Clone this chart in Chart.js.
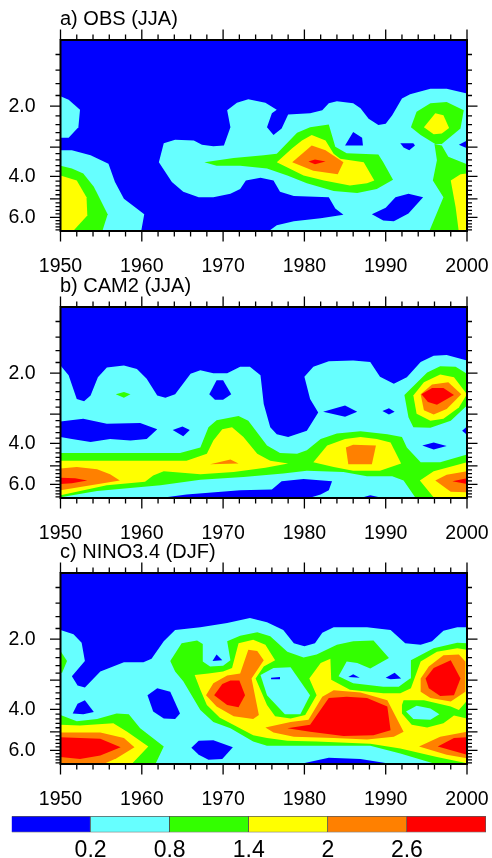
<!DOCTYPE html>
<html>
<head>
<meta charset="utf-8">
<script src="https://cdn.jsdelivr.net/npm/chart.js@4"></script>
<style>
  body { margin: 0; background: #fff; }
  canvas { position: absolute; left: 0; }
</style>
</head>
<body>
<canvas id="panelA" width="492" height="270" style="top:10px"></canvas>
<canvas id="panelB" width="492" height="270" style="top:277px"></canvas>
<canvas id="panelC" width="492" height="270" style="top:543px"></canvas>
<canvas id="colorBar" width="492" height="53" style="top:805px"></canvas>
<script>
// axis ticks
const xLabels = [1950, 1960, 1970, 1980, 1990, 2000];
const xMinor = [1952, 1954, 1956, 1958, 1962, 1964, 1966, 1968, 1972, 1974, 1976, 1978, 1982, 1984, 1986, 1988, 1992, 1994, 1996, 1998];
const yLabels = [2, 4, 6];
const yMajor = [2, 3, 4, 5, 6];
const yMinor = [1.2, 1.4, 1.6, 1.8, 2.2, 2.4, 2.6, 2.8, 3.2, 3.4, 3.6, 3.8, 4.2, 4.4, 4.6, 4.8, 5.2, 5.4, 5.6, 5.8, 6.2, 6.4, 6.6, 6.8];
const periodMin = 1.04;
const periodMax = 6.87;

// color bar
const barLevels = ['0.2', '0.8', '1.4', '2', '2.6'];
const BLUE = '#0000ff', CYAN = '#66ffff', GREEN = '#33ff00', YELLOW = '#ffff00', ORANGE = '#ff8000', RED = '#ff0000';
const barColors = [BLUE, CYAN, GREEN, YELLOW, ORANGE, RED];

// contour outlines, as [year, log2(period)]
const wholeDomain = [[1950, 0], [2000, 0], [2000, 2.8], [1950, 2.8]];

// a) OBS
const obsCyan = [
  [[1950,0.86],[1951,0.91],[1952.4,1.05],[1952.2,1.30],[1951,1.45],[1950,1.45]],
  [[1950,1.63],[1951.4,1.63],[1953.7,1.70],[1955.9,1.82],[1956.7,2.08],[1957.8,2.32],[1960.3,2.54],[1959.9,2.8],[1950,2.8]],
  [[1975.4,2.8],[2000,2.8],[2000,0.82],[1997.5,0.75],[1995.5,0.75],[1993,0.83],[1992,0.89],[1990.8,1.13],[1990,1.25],[1989.1,1.27],[1987.9,1.18],[1986.9,1.03],[1986,0.96],[1984,0.93],[1983,0.96],[1982.2,1.06],[1980.7,1.10],[1978,1.12],[1977.2,1.32],[1976.2,1.41],[1975.4,1.30],[1976,1.10],[1976.6,1.05],[1975.2,0.95],[1973.1,0.90],[1971.7,0.95],[1970.5,1.06],[1970.9,1.30],[1970.1,1.56],[1968.8,1.57],[1967.4,1.55],[1966.4,1.49],[1964.1,1.48],[1962.7,1.53],[1962.1,1.80],[1963.7,2.08],[1965.1,2.22],[1967,2.30],[1968.8,2.30],[1970.9,2.25],[1972.1,2.18],[1972.8,2.06],[1974.6,2.02],[1976.2,2.06],[1977,2.22],[1978.7,2.28],[1983,2.30],[1983.8,2.46],[1984.8,2.55],[1982,2.60],[1978.7,2.64],[1976.6,2.70]]
];
const obsBlue = [
  [[1985,1.56],[1986,1.37],[1987.1,1.45],[1987.2,1.56]],
  [[1991.8,1.53],[1993.4,1.53],[1993.6,1.56],[1992.9,1.63],[1992.2,1.59]],
  [[2000,1.49],[1999,1.55],[2000,1.60]],
  [[1988.3,2.54],[1990,2.45],[1991.2,2.30],[1992.8,2.25],[1994.6,2.30],[1992.8,2.53],[1991,2.64],[1989.7,2.63]]
];
const obsGreen = [
  [[1950,1.85],[1951.4,1.89],[1952.8,1.96],[1954.1,2.15],[1955.8,2.54],[1955.1,2.8],[1950,2.8]],
  [[1967.7,1.80],[1971.3,1.74],[1975,1.70],[1976.6,1.68],[1978,1.51],[1979.1,1.38],[1980.7,1.30],[1983,1.26],[1983.8,1.58],[1985.2,1.67],[1989.1,1.69],[1989.7,1.80],[1990.9,2.05],[1988.9,2.18],[1986.5,2.24],[1983.6,2.21],[1980.3,2.10],[1977.9,1.99],[1975.4,1.89],[1972.1,1.85],[1969.2,1.85]],
  [[1993.1,1.30],[1993.8,1.08],[1995.5,0.96],[1997.5,0.94],[1999.6,1.06],[1999.2,1.32],[1996.9,1.54],[1996.1,1.54],[1994.3,1.41]],
  [[1996,1.54],[1996.9,1.56],[1997.7,1.72],[2000,1.83],[2000,2.8],[1995.3,2.8],[1997.1,2.30],[1995.8,2.06],[1996.3,1.77]]
];
const obsYellow = [
  [[1950,1.99],[1952,2.06],[1953.2,2.30],[1953.3,2.56],[1951.4,2.8],[1950,2.8]],
  [[1976.6,1.80],[1978.5,1.60],[1979.7,1.49],[1980.9,1.41],[1982.6,1.49],[1983.6,1.68],[1984.4,1.75],[1987.3,1.80],[1988.6,2.06],[1987.7,2.10],[1985.6,2.13],[1982.4,2.06],[1979.9,1.99]],
  [[1994.7,1.30],[1996.1,1.10],[1997.1,1.13],[1997.8,1.31],[1996.9,1.39],[1995.9,1.40]],
  [[1998,2.06],[1999.2,1.97],[2000,1.96],[2000,2.8],[1999,2.8],[1998.6,2.44]]
];
const obsOrange = [
  [[1978.5,1.80],[1980.9,1.56],[1982.6,1.63],[1984.8,1.80],[1984.1,1.97],[1981.1,1.92]]
];
const obsRed = [
  [[1980.5,1.79],[1981.3,1.76],[1982.6,1.79],[1981.3,1.83]]
];

// b) CAM2
const camCyan = [
  [[1950,0.89],[1951,1.03],[1952,1.37],[1952.9,1.40],[1953.7,1.32],[1954.6,1.06],[1955.7,0.92],[1957.8,0.89],[1959.4,0.94],[1960.6,1.08],[1961.9,1.32],[1962.9,1.35],[1964.1,1.30],[1966,1.01],[1967.2,0.96],[1968.8,1.00],[1970.5,1.00],[1972.1,0.91],[1973.3,0.91],[1974.6,1.03],[1975,1.44],[1975.8,1.77],[1976.6,1.87],[1978,1.91],[1980.3,1.82],[1981.7,1.56],[1980.7,1.37],[1980,1.05],[1981.1,0.91],[1983,0.83],[1986,0.82],[1988.1,0.84],[1989.3,1.05],[1991,1.15],[1992.6,1.06],[1994.3,0.84],[1995.9,0.75],[1997.5,0.74],[2000,0.82],[2000,2.8],[1950,2.8]]
];
const camBlue = [
  [[1950,1.69],[1952.8,1.65],[1955.7,1.72],[1959.8,1.71],[1961.9,1.80],[1960.6,1.94],[1958.6,1.96],[1956.1,1.94],[1953.7,1.98],[1951.4,1.94],[1950,1.91]],
  [[1963.8,1.81],[1965,1.76],[1965.9,1.81],[1965.1,1.90]],
  [[1968.3,1.30],[1969.2,1.10],[1970,1.10],[1971,1.30],[1970,1.38],[1969,1.38]],
  [[1982.3,1.55],[1985,1.46],[1986.5,1.55],[1985,1.62]],
  [[1989.6,1.54],[1990.4,1.50],[1991.1,1.55],[1990.4,1.59]],
  [[2000,1.76],[1999.4,1.82],[2000,1.88]],
  [[1994.5,2.03],[1995.9,1.99],[1997.5,2.04],[1995.9,2.09]],
  [[1961,2.8],[1965.5,2.73],[1972.1,2.67],[1976,2.66],[1977.2,2.54],[1979.9,2.51],[1983.4,2.54],[1983,2.67],[1982,2.73],[1980,2.8]],
  [[1986.3,2.8],[1988.1,2.74],[1990.4,2.8]]
];
const camGreen = [
  [[1956.8,1.30],[1957.8,1.27],[1958.6,1.30],[1957.8,1.35]],
  [[1950,2.14],[1964.7,2.14],[1967.2,2.06],[1968.2,1.77],[1969.2,1.67],[1971.9,1.61],[1973.1,1.68],[1975.4,2.03],[1977,2.14],[1979.1,2.15],[1980.3,2.10],[1982,1.94],[1984,1.86],[1986.9,1.83],[1990.2,1.87],[1992,1.91],[1992.6,2.06],[1994.3,2.27],[1996.7,2.27],[2000,2.16],[2000,2.8],[1993.8,2.8],[1992.2,2.53],[1990.8,2.47],[1987.7,2.47],[1984.8,2.41],[1980.3,2.39],[1977.4,2.43],[1972.5,2.48],[1967.2,2.52],[1962.3,2.60],[1954.5,2.68],[1950,2.77]],
  [[1992.3,1.31],[1995.1,0.99],[1996.7,0.90],[1998.6,0.91],[2000,1.01],[2000,1.46],[1998,1.68],[1995.5,1.78],[1993.4,1.77],[1992.8,1.63]]
];
const camYellow = [
  [[1950,2.25],[1965.5,2.25],[1968,2.15],[1968.8,1.96],[1969.9,1.80],[1971.1,1.77],[1972.5,1.91],[1974.2,2.15],[1975.8,2.25],[1978,2.29],[1975.2,2.35],[1971.3,2.41],[1967.2,2.44],[1962.7,2.40],[1961.4,2.46],[1960.4,2.55],[1955.7,2.60],[1950,2.74]],
  [[1981.1,2.27],[1982.8,2.03],[1985,1.94],[1986.9,1.91],[1988.9,1.94],[1990.6,1.99],[1991.9,2.29],[1989.3,2.39],[1986,2.39],[1983.6,2.34]],
  [[1994.2,2.53],[1995.9,2.40],[2000,2.27],[2000,2.8],[1996.1,2.8]],
  [[1993.4,1.32],[1994.7,1.13],[1996.7,1.02],[1998.4,1.06],[2000,1.30],[1999,1.49],[1997.1,1.65],[1995.5,1.68],[1993.8,1.58]]
];
const camOrange = [
  [[1950,2.36],[1952,2.34],[1954.5,2.37],[1956.1,2.44],[1957.3,2.53],[1950,2.67]],
  [[1968.4,2.30],[1970.9,2.23],[1971.9,2.29]],
  [[1985.1,2.06],[1986,2.02],[1988.8,2.03],[1988.3,2.30],[1985.4,2.30]],
  [[1996.1,2.53],[1997.5,2.45],[2000,2.40],[2000,2.70],[1998,2.69]],
  [[1994.3,1.30],[1995.7,1.16],[1997.7,1.13],[1999.3,1.30],[1997.5,1.51],[1995.9,1.59],[1994.7,1.53]]
];
const camRed = [
  [[1950,2.49],[1951.8,2.50],[1953.3,2.53],[1951.4,2.57],[1950,2.58]],
  [[1998.2,2.54],[2000,2.50],[2000,2.58]],
  [[1994.4,1.30],[1995.7,1.21],[1997.1,1.21],[1998.4,1.31],[1996.3,1.45],[1995.2,1.41]]
];

// c) NINO3.4
const ninoCyan = [
  [[1950,0.87],[1951.6,0.93],[1952.6,1.05],[1953,1.31],[1951.4,1.53],[1952.1,1.66],[1953,1.69],[1954.9,1.46],[1957.8,1.33],[1960.2,1.33],[1961.2,1.28],[1962.7,1.03],[1964.1,0.87],[1967.2,0.83],[1970.5,0.77],[1973.3,0.70],[1975.4,0.76],[1977.4,0.87],[1978.7,1.06],[1980,1.10],[1981.3,1.06],[1982.2,0.91],[1983.6,0.83],[1987.7,0.83],[1990.6,0.87],[1992.4,1.06],[1994.3,1.08],[1995.7,1.03],[1997.1,0.88],[1998.8,0.83],[2000,0.83],[2000,2.8],[1950,2.8]]
];
const ninoBlue = [
  [[1951.5,2.06],[1952.1,1.92],[1953,1.87],[1954.1,2.04],[1952.8,2.07]],
  [[1960.7,1.80],[1961.9,1.70],[1963.5,1.75],[1964.7,2.06],[1964.1,2.14],[1962.7,2.13],[1961.4,2.03]],
  [[1966.1,2.55],[1967,2.45],[1968.8,2.44],[1971.2,2.54],[1969.9,2.71],[1968.2,2.72],[1967,2.65]],
  [[1978.7,2.8],[1983,2.69],[1986.9,2.71],[1991.8,2.8]]
];
const ninoGreen = [
  [[1950,1.17],[1950.8,1.31],[1950.2,1.48],[1950,1.48]],
  [[1950,2.08],[1952,2.17],[1954.5,2.14],[1956.9,2.06],[1958.4,2.07],[1959.8,2.27],[1962.7,2.53],[1961.6,2.8],[1950,2.8]],
  [[1963.5,1.31],[1964.9,1.06],[1966.8,1.02],[1967.5,1.07],[1967.5,1.32],[1968.4,1.39],[1970,1.38],[1970.9,1.30],[1970.5,1.03],[1972.1,0.95],[1974.2,0.90],[1975.8,0.96],[1977.9,1.18],[1979.9,1.26],[1981.5,1.22],[1984,1.08],[1986,1.03],[1988.5,1.02],[1990.4,1.27],[1988.1,1.42],[1986.5,1.34],[1985.2,1.32],[1984.2,1.53],[1986,1.63],[1989.7,1.68],[1991.6,1.68],[1993,1.56],[1993.1,1.30],[1995.9,1.13],[1998.8,1.05],[2000,1.06],[2000,2.8],[1996.7,2.8],[1991.8,2.63],[1988.1,2.52],[1981.5,2.52],[1975.4,2.52],[1973.7,2.46],[1970.9,2.27],[1968.8,2.18],[1967.2,2.01],[1965.1,1.60],[1964.1,1.46]]
];
const ninoTinyBlue = [
  [[1968.7,1.31],[1969.2,1.22],[1969.9,1.30]],
  [[1985.4,1.54],[1986,1.50],[1986.8,1.55]],
  [[1990,1.55],[1991.1,1.48],[1991.9,1.56],[1990.6,1.57]]
];
const ninoInnerCyan = [
  [[1974.6,1.51],[1976.2,1.41],[1978.3,1.40],[1980.7,1.80],[1979.5,2.07],[1977.6,2.07],[1975.4,1.80]]
];
const ninoInnerBlue = [
  [[1975.9,1.55],[1977,1.54],[1977,1.57],[1976,1.57]]
];
const ninoYellow = [
  [[1950,2.22],[1952.4,2.23],[1956.5,2.20],[1958.2,2.32],[1960.8,2.53],[1958.6,2.8],[1950,2.8]],
  [[1966.5,1.51],[1968.2,1.49],[1970,1.46],[1971.1,1.41],[1971.9,1.06],[1973.7,1.01],[1975.2,1.08],[1976.4,1.30],[1975,1.39],[1974,1.56],[1975.4,1.94],[1976.4,2.10],[1978.3,2.13],[1980.1,2.08],[1981.5,1.80],[1980.6,1.56],[1982,1.34],[1983.2,1.28],[1983.3,1.58],[1985.6,1.72],[1989.7,1.77],[1991.8,1.77],[1993.1,1.70],[1994.3,1.32],[1996.3,1.18],[1998.8,1.13],[2000,1.15],[2000,2.77],[1996.3,2.68],[1991.8,2.56],[1988.1,2.49],[1981.5,2.46],[1977.9,2.45],[1975.4,2.41],[1973.7,2.37],[1970.9,2.20],[1969.6,2.12],[1968,1.94],[1967.2,1.72]]
];
const ninoGreenIsland = [
  [[1992,1.94],[1992.2,1.87],[1994.7,1.87],[1998,1.96],[1999,2.01],[2000,1.88],[2000,2.13],[1998.4,2.09],[1997.1,2.20],[1995.1,2.26],[1993.2,2.22],[1992,2.06]]
];
const ninoCyanIsland = [
  [[1992.5,2.03],[1993.8,1.95],[1995.5,1.99],[1996.6,2.07],[1995.5,2.15],[1993.4,2.14]]
];
const ninoOrange = [
  [[1950,2.33],[1954.9,2.33],[1957.8,2.41],[1959.1,2.54],[1956.9,2.70],[1954.9,2.8],[1950,2.8]],
  [[1967.9,1.80],[1968.8,1.63],[1970.5,1.52],[1972.1,1.49],[1973.1,1.15],[1974.2,1.17],[1975,1.30],[1973.5,1.56],[1974.4,2.08],[1973.7,2.14],[1971.3,2.10],[1969.2,1.96]],
  [[1975.2,2.26],[1978.3,2.18],[1980.5,2.15],[1982.2,1.82],[1983.6,1.73],[1986.9,1.76],[1990.2,1.87],[1992.2,2.32],[1991,2.39],[1987.7,2.43],[1983.6,2.41],[1978.7,2.39],[1976.2,2.33]],
  [[1994.3,1.56],[1995.3,1.39],[1997.1,1.23],[1999,1.22],[1999.8,1.32],[1999.8,1.75],[1998,1.89],[1995.5,1.84],[1994.3,1.75]],
  [[1994.1,2.53],[1996.7,2.39],[2000,2.32],[2000,2.70],[1997.5,2.65]]
];
const ninoRed = [
  [[1950,2.40],[1954.9,2.42],[1957.4,2.54],[1954.9,2.66],[1952.4,2.71],[1950,2.68]],
  [[1968.9,1.80],[1969.9,1.64],[1970.9,1.59],[1972,1.59],[1972.7,1.80],[1971.9,1.97],[1970.5,1.94]],
  [[1977.9,2.27],[1980.7,2.22],[1983,1.84],[1985.2,1.82],[1987.7,1.84],[1990.2,1.96],[1990.6,2.30],[1988.5,2.37],[1984.8,2.38],[1980.7,2.32]],
  [[1994.9,1.56],[1995.9,1.41],[1998,1.30],[1999.2,1.56],[1998.4,1.80],[1996.7,1.81],[1995.3,1.70]],
  [[1996.4,2.53],[1998.4,2.41],[2000,2.40],[2000,2.65]]
];

// turns stacked layers (bottom first) into filled datasets, chart.js paints dataset 0 last
function makeDatasets(layers) {
  const sets = [{ rings: [wholeDomain], color: BLUE }].concat(layers);
  const out = [];
  sets.forEach(layer => {
    layer.rings.forEach(ring => {
      const pts = ring.concat([ring[0]]).map(p => ({ x: p[0], y: Math.pow(2, p[1]) }));
      out.push({
        data: pts,
        showLine: true,
        fill: 'shape',
        backgroundColor: layer.color,
        borderWidth: 0,
        pointRadius: 0
      });
    });
  });
  return out.reverse();
}

// frame, tick marks and the panel title
const framePlugin = {
  id: 'frame',
  afterDraw(chart, args, opts) {
    const ctx = chart.ctx;
    const { left, right, top, bottom } = chart.chartArea;
    const x = chart.scales.x, y = chart.scales.y;
    ctx.save();
    ctx.strokeStyle = '#000';
    ctx.lineWidth = 1.3;
    const xTick = (v, len) => {
      const px = x.getPixelForValue(v);
      ctx.beginPath();
      ctx.moveTo(px, top - len); ctx.lineTo(px, top);
      ctx.moveTo(px, bottom); ctx.lineTo(px, bottom + len);
      ctx.stroke();
    };
    const yTick = (v, len) => {
      const py = y.getPixelForValue(v);
      ctx.beginPath();
      ctx.moveTo(left - len, py); ctx.lineTo(left, py);
      ctx.moveTo(right, py); ctx.lineTo(right + len, py);
      ctx.stroke();
    };
    xLabels.forEach(v => xTick(v, 10.5));
    xMinor.forEach(v => xTick(v, 5.5));
    yMajor.forEach(v => yTick(v, 10.5));
    yMinor.forEach(v => yTick(v, 5));
    ctx.lineWidth = 2;
    ctx.strokeRect(left, top, right - left, bottom - top);
    ctx.fillStyle = '#000';
    ctx.font = '20px "Liberation Sans"';
    ctx.textBaseline = 'alphabetic';
    ctx.fillText(opts.text, left - 0.5, top - 15);
    ctx.restore();
  }
};

function makePanel(id, title, layers) {
  new Chart(document.getElementById(id), {
    type: 'scatter',
    data: { datasets: makeDatasets(layers) },
    plugins: [framePlugin],
    options: {
      responsive: false,
      animation: false,
      events: [],
      layout: { padding: { left: 0, right: 25, top: 30, bottom: 0 } },
      plugins: {
        legend: { display: false },
        tooltip: { enabled: false },
        frame: { text: title }
      },
      scales: {
        x: {
          type: 'linear',
          min: 1950,
          max: 2000,
          grid: { display: false, drawTicks: false },
          border: { display: false },
          afterBuildTicks: s => { s.ticks = xLabels.map(v => ({ value: v })); },
          afterFit: s => { s.height = 49; s.paddingLeft = 0; s.paddingRight = 0; },
          ticks: {
            autoSkip: false,
            maxRotation: 0,
            padding: 24,
            color: '#000',
            font: { family: 'Liberation Sans', size: 19.5 },
            callback: v => String(v)
          }
        },
        y: {
          type: 'logarithmic',
          min: periodMin,
          max: periodMax,
          reverse: true,
          grid: { display: false, drawTicks: false },
          border: { display: false },
          afterBuildTicks: s => { s.ticks = yLabels.map(v => ({ value: v })); },
          afterFit: s => { s.width = 60.5; s.paddingTop = 0; s.paddingBottom = 0; },
          ticks: {
            autoSkip: false,
            padding: 25,
            color: '#000',
            font: { family: 'Liberation Sans', size: 19.5 },
            callback: v => v.toFixed(1)
          }
        }
      }
    }
  });
}

makePanel('panelA', 'a) OBS (JJA)', [
  { rings: obsCyan, color: CYAN },
  { rings: obsBlue, color: BLUE },
  { rings: obsGreen, color: GREEN },
  { rings: obsYellow, color: YELLOW },
  { rings: obsOrange, color: ORANGE },
  { rings: obsRed, color: RED }
]);
makePanel('panelB', 'b) CAM2 (JJA)', [
  { rings: camCyan, color: CYAN },
  { rings: camBlue, color: BLUE },
  { rings: camGreen, color: GREEN },
  { rings: camYellow, color: YELLOW },
  { rings: camOrange, color: ORANGE },
  { rings: camRed, color: RED }
]);
makePanel('panelC', 'c) NINO3.4 (DJF)', [
  { rings: ninoCyan, color: CYAN },
  { rings: ninoBlue, color: BLUE },
  { rings: ninoGreen, color: GREEN },
  { rings: ninoTinyBlue, color: BLUE },
  { rings: ninoInnerCyan, color: CYAN },
  { rings: ninoInnerBlue, color: BLUE },
  { rings: ninoYellow, color: YELLOW },
  { rings: ninoGreenIsland, color: GREEN },
  { rings: ninoCyanIsland, color: CYAN },
  { rings: ninoOrange, color: ORANGE },
  { rings: ninoRed, color: RED }
]);

// color bar: one stacked horizontal bar with a slice per color
new Chart(document.getElementById('colorBar'), {
  type: 'bar',
  data: {
    labels: [''],
    datasets: barColors.map(c => ({
      data: [1],
      backgroundColor: c,
      borderColor: 'rgba(0,0,0,0.65)',
      borderWidth: 1,
      barPercentage: 1,
      categoryPercentage: 1
    }))
  },
  options: {
    indexAxis: 'y',
    responsive: false,
    animation: false,
    events: [],
    layout: { padding: { left: 11.5, right: 6, top: 11, bottom: 0 } },
    plugins: { legend: { display: false }, tooltip: { enabled: false } },
    scales: {
      x: {
        type: 'linear',
        stacked: true,
        min: 0,
        max: barColors.length,
        grid: { display: false, drawTicks: false },
        border: { display: false },
        afterBuildTicks: s => { s.ticks = barLevels.map((_, i) => ({ value: i + 1 })); },
        afterFit: s => { s.height = 25.5; s.paddingLeft = 0; s.paddingRight = 0; },
        ticks: {
          autoSkip: false,
          maxRotation: 0,
          padding: 4,
          color: '#000',
          font: { family: 'Liberation Sans', size: 23 },
          callback: v => barLevels[v - 1]
        }
      },
      y: { stacked: true, display: false }
    }
  }
});
</script>
</body>
</html>
